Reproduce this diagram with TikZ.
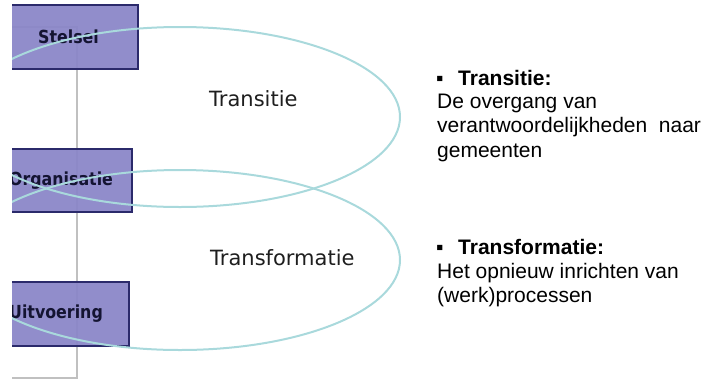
\documentclass[tikz,border=0pt]{standalone}
\usepackage{fontspec}
\newfontfamily\boxfont[FakeStretch=0.88]{DejaVu Sans}
\newfontfamily\elfont{DejaVu Sans}
\newfontfamily\rfont{Liberation Sans}
\definecolor{boxfill}{HTML}{8A86C8}
\definecolor{boxline}{HTML}{2B2A6B}
\definecolor{boxtext}{HTML}{141432}
\definecolor{ringcol}{HTML}{A9D9DC}
\definecolor{greyline}{HTML}{C0C0C0}
\definecolor{eltextcol}{HTML}{1E1E1E}
\tikzset{
  stagebox/.style={draw=boxline, line width=2.5pt, fill=boxfill, fill opacity=0.94, text opacity=1,
    font=\boxfont\bfseries\fontsize{18}{20}\selectfont, text=boxtext, inner sep=0pt, minimum height=64pt},
  ring/.style={draw=ringcol, line width=2pt},
  eltext/.style={font=\elfont\fontsize{21}{24}\selectfont, text=eltextcol, anchor=base west, inner sep=0pt},
  rtext/.style={font=\rfont\fontsize{21}{24}\selectfont, text=black, anchor=base west, inner sep=0pt},
  rbold/.style={rtext, font=\rfont\bfseries\fontsize{21}{24}\selectfont}
}
\begin{document}
\begin{tikzpicture}[x=1pt,y=-1pt]
\useasboundingbox (0,0) rectangle (708,381);
\begin{scope}
\clip (12,0) rectangle (708,381);
\draw[greyline, line width=2pt] (-10,27) rectangle (77,378);
\node[stagebox, minimum width=139pt] (stelsel) at (68.5,37) {Stelsel};
\node[stagebox, minimum width=142pt, minimum height=63pt] (org) at (61,180.5) {Organisatie};
\node[stagebox, minimum width=146pt] (uit) at (56,314) {Uitvoering};
\draw[ring] (180,117) ellipse [x radius=220pt, y radius=90pt];
\draw[ring] (180,260) ellipse [x radius=220pt, y radius=90pt];
\end{scope}
\node[eltext] (lt1) at (209,106.5) {Transitie};
\node[eltext] (lt2) at (210,265.5) {Transformatie};
\node[rtext] (b1) at (436,85) {▪};
\node[rbold] (h1) at (458,85) {Transitie:};
\node[rtext] (l11) at (437,108) {De overgang van};
\node[rtext] (l12) at (437,132.5) {verantwoordelijkheden\ \ naar};
\node[rtext] (l13) at (437,157) {gemeenten};
\node[rtext] (b2) at (436,254) {▪};
\node[rbold] (h2) at (458,254) {Transformatie:};
\node[rtext] (l21) at (437,278) {Het opnieuw inrichten van};
\node[rtext] (l22) at (437,302) {(werk)processen};
\end{tikzpicture}
\end{document}
